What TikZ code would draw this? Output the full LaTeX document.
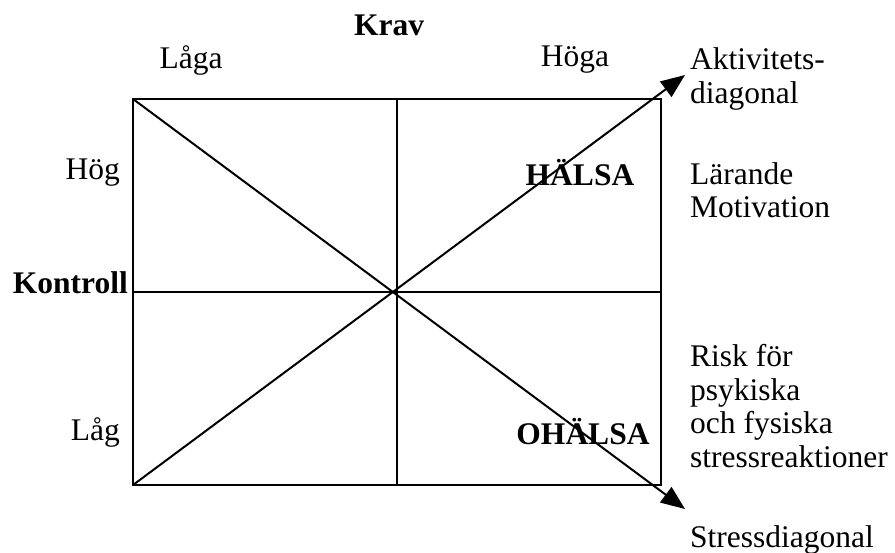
\documentclass[tikz,border=0pt]{standalone}
\usepackage{fontspec}
\setmainfont{Liberation Serif}
\usetikzlibrary{arrows.meta}
\begin{document}
\begin{tikzpicture}[x=1pt,y=-1pt,
  txt/.style={inner sep=0pt,font=\fontsize{31.5}{33.5}\selectfont,align=left},
  btxt/.style={inner sep=0pt,font=\fontsize{31.5}{33.5}\selectfont\bfseries},
  frame/.style={line width=2pt},
  diag/.style={line width=2pt,-{Triangle[length=24pt,width=19pt]}}]
\useasboundingbox (0,0) rectangle (895,553);
\coordinate (tl) at (133,99);
\coordinate (tr) at (661,99);
\coordinate (bl) at (133,485);
\coordinate (br) at (661,485);
\coordinate (tm) at (397,99);
\coordinate (bm) at (397,485);
\coordinate (lm) at (133,292);
\coordinate (rm) at (661,292);
\coordinate (tipup) at (685,75);
\coordinate (tipdown) at (685,509);
\draw[frame] (tl) rectangle (br);
\draw[frame] (tm) -- (bm);
\draw[frame] (lm) -- (rm);
\draw[diag] (tl) -- (tipdown);
\draw[diag] (bl) -- (tipup);
\node[btxt] (krav) at (389,25) {Krav};
\node[txt] (laga) at (191,60) {Låga};
\node[txt] (hoga) at (575,60) {Höga};
\node[txt,anchor=west] (akt) at (690,79) {Aktivitets-\\diagonal};
\node[txt,anchor=west] (lar) at (690,190) {Lärande\\Motivation};
\node[txt,anchor=east] (hog) at (120,173) {Hög};
\node[btxt] (halsa) at (580,173) {HÄLSA};
\node[btxt,anchor=east] (kontroll) at (128,283) {Kontroll};
\node[txt,anchor=east] (lag) at (120,432) {Låg};
\node[btxt] (ohalsa) at (583,432) {OHÄLSA};
\node[txt,anchor=west] (risk) at (690,406) {Risk för\\psykiska\\och fysiska\\stressreaktioner};
\node[txt,anchor=west] (stress) at (690,540) {Stressdiagonal};
\end{tikzpicture}
\end{document}
